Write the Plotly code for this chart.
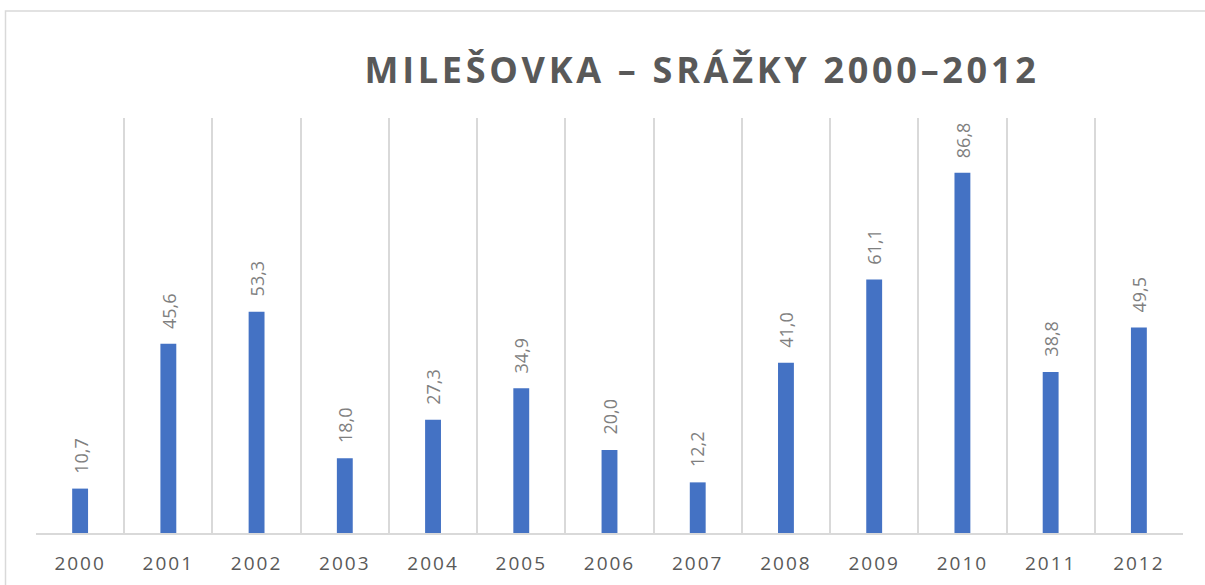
import plotly.graph_objects as go

years = ["2000", "2001", "2002", "2003", "2004", "2005", "2006",
         "2007", "2008", "2009", "2010", "2011", "2012"]
srazky = [10.7, 45.6, 53.3, 18.0, 27.3, 34.9, 20.0, 12.2, 41.0, 61.1, 86.8, 38.8, 49.5]
title_text = "MILEŠOVKA – SRÁŽKY 2000–2012"

W, H = 1205, 585
L, R, T, B = 36, 22, 118, 52
pw, ph = W - L - R, H - T - B

def px_x(x):
    return (x - L) / pw

def px_y(y):
    return (H - B - y) / ph

fig = go.Figure()
fig.add_trace(go.Bar(
    x=years, y=srazky, width=0.18,
    marker=dict(color="#4472C4", line=dict(width=0)),
    hoverinfo="x+y", showlegend=False,
))

annotations = []
for i, v in enumerate(srazky):
    annotations.append(dict(
        x=i, y=v, xref="x", yref="y",
        text=f"{v:.1f}".replace(".", ","),
        showarrow=False, textangle=-90,
        xanchor="center", yanchor="bottom", yshift=13,
        font=dict(family="Open Sans", size=18, color="#7F7F7F"),
    ))

fig.update_layout(
    width=W, height=H,
    margin=dict(l=L, r=R, t=T, b=B, autoexpand=False),
    paper_bgcolor="white", plot_bgcolor="white",
    separators=", ",
    title=dict(
        text=title_text,
        x=px_x(702), xref="paper", xanchor="center",
        y=1 - 70 / H, yref="container", yanchor="middle",
        font=dict(family="Open Sans", size=36, color="#595959", weight="bold"),
    ),
    xaxis=dict(
        type="category", tickson="boundaries", showgrid=True,
        gridcolor="#D9D9D9", gridwidth=1.6,
        showline=True, linecolor="#D9D9D9", linewidth=1.6,
        ticks="", ticklabelstandoff=12,
        tickfont=dict(family="Open Sans", size=19, color="#595959"),
        range=[-0.5, 12.5], fixedrange=True,
    ),
    yaxis=dict(
        range=[0, 100], visible=False, showgrid=False, zeroline=False,
        fixedrange=True,
    ),
    annotations=annotations,
    shapes=[dict(
        type="rect", xref="paper", yref="paper", layer="below",
        x0=px_x(5.5), x1=px_x(1240), y0=px_y(620), y1=px_y(11),
        line=dict(color="#D9D9D9", width=1.5), fillcolor="rgba(0,0,0,0)",
    )],
)

post = """
document.body.style.margin = '0';
document.body.style.overflow = 'hidden';
var gd = document.getElementById('{plot_id}');
function spacing(){
  gd.querySelectorAll('.gtitle').forEach(function(e){ e.style.letterSpacing = '3.7px'; });
  gd.querySelectorAll('.xtick text').forEach(function(e){ e.style.letterSpacing = '2px'; });
}
spacing();
gd.on('plotly_afterplot', spacing);
"""
fig.write_html("out.html", post_script=post, config={"displayModeBar": False})
